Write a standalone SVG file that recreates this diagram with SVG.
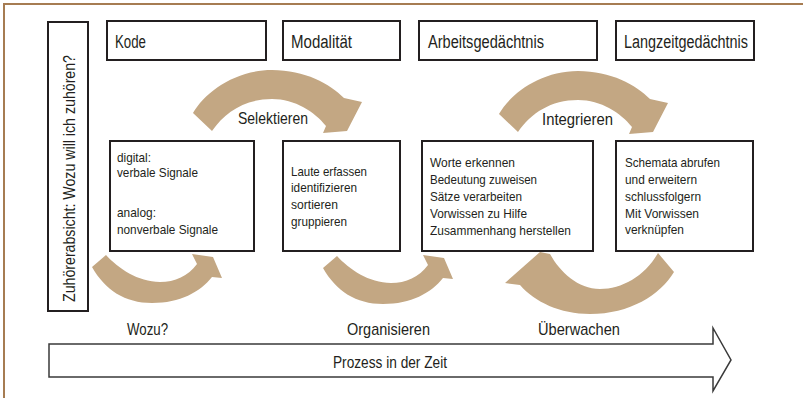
<svg xmlns="http://www.w3.org/2000/svg" width="803" height="398" viewBox="0 0 803 398">
<style>
text{font-family:"Liberation Sans",Arial,sans-serif;fill:#231f20}
.h{font-size:18px}
.v{font-size:17px}
.b{font-size:13px}
.l{font-size:17px}
.box{fill:#fff;stroke:#231f20;stroke-width:2}
.arc{fill:#c3a783}
</style>
<defs>
<path id="topArc" d="M193,113 C205,92 235,70 272,70 C305,70 330,84 344,98 L362,102 L347,131 L323,133 L326,126 C315,112 295,99 272,99 C245,99 225,112 212,131 Z"/>
<path id="botArc" d="M92,267 L106,255 C118,268 138,282 160,282 C175,282 188,276 197,264 L192,254 L213,257 L222,278 L212,277 C200,292 180,303 152,303 C125,303 105,290 92,267 Z"/>
</defs>
<rect width="803" height="398" fill="#fff"/>
<path d="M4,398 L4,4 L803,4" fill="none" stroke="#a67c52" stroke-width="2"/>

<g id="connectors">
<use href="#topArc" class="arc"/>
<use href="#topArc" class="arc" transform="translate(306,1)"/>
<use href="#botArc" class="arc"/>
<use href="#botArc" class="arc" transform="translate(231,1)"/>
<path class="arc" d="M658,253 L674,272 C660,295 630,314 590,314 C560,314 535,302 520,285 L505,283 L540,252 L550,254 C560,272 578,289 600,289 C622,289 645,276 658,253 Z"/>
</g>

<g id="intent">
<rect class="box" x="48" y="22" width="40" height="289"/>
<text class="v" transform="translate(75,302) rotate(-90)" textLength="247" lengthAdjust="spacingAndGlyphs">Zuhörerabsicht: Wozu will ich zuhören?</text>
</g>

<g id="kode"><rect class="box" x="107" y="21" width="159" height="39"/><text class="h" x="115" y="48" textLength="31" lengthAdjust="spacingAndGlyphs">Kode</text></g>
<g id="modalitaet"><rect class="box" x="283" y="21" width="117" height="39"/><text class="h" x="291" y="48" textLength="61" lengthAdjust="spacingAndGlyphs">Modalität</text></g>
<g id="arbeitsgedaechtnis"><rect class="box" x="419" y="21" width="178" height="39"/><text class="h" x="428" y="48" textLength="116" lengthAdjust="spacingAndGlyphs">Arbeitsgedächtnis</text></g>
<g id="langzeitgedaechtnis"><rect class="box" x="616" y="21" width="138" height="39"/><text class="h" x="624" y="48" textLength="124" lengthAdjust="spacingAndGlyphs">Langzeitgedächtnis</text></g>

<g id="signale"><rect class="box" x="110" y="141" width="144" height="110"/>
<text class="b" x="117" y="162" textLength="34" lengthAdjust="spacingAndGlyphs">digital:</text>
<text class="b" x="117" y="177" textLength="81" lengthAdjust="spacingAndGlyphs">verbale Signale</text>
<text class="b" x="117" y="217" textLength="39" lengthAdjust="spacingAndGlyphs">analog:</text>
<text class="b" x="117" y="234" textLength="101" lengthAdjust="spacingAndGlyphs">nonverbale Signale</text>
</g>
<g id="laute"><rect class="box" x="283" y="141" width="117" height="110"/>
<text class="b" x="291" y="176" textLength="76" lengthAdjust="spacingAndGlyphs">Laute erfassen</text>
<text class="b" x="291" y="192" textLength="66" lengthAdjust="spacingAndGlyphs">identifizieren</text>
<text class="b" x="291" y="209" textLength="47" lengthAdjust="spacingAndGlyphs">sortieren</text>
<text class="b" x="291" y="226" textLength="56" lengthAdjust="spacingAndGlyphs">gruppieren</text>
</g>
<g id="worte"><rect class="box" x="422" y="141" width="171" height="110"/>
<text class="b" x="430" y="167" textLength="85" lengthAdjust="spacingAndGlyphs">Worte erkennen</text>
<text class="b" x="430" y="184" textLength="107" lengthAdjust="spacingAndGlyphs">Bedeutung zuweisen</text>
<text class="b" x="430" y="201" textLength="92" lengthAdjust="spacingAndGlyphs">Sätze verarbeiten</text>
<text class="b" x="430" y="218" textLength="97" lengthAdjust="spacingAndGlyphs">Vorwissen zu Hilfe</text>
<text class="b" x="430" y="235" textLength="141" lengthAdjust="spacingAndGlyphs">Zusammenhang herstellen</text>
</g>
<g id="schemata"><rect class="box" x="616" y="141" width="137" height="110"/>
<text class="b" x="625" y="167" textLength="95" lengthAdjust="spacingAndGlyphs">Schemata abrufen</text>
<text class="b" x="625" y="184" textLength="72" lengthAdjust="spacingAndGlyphs">und erweitern</text>
<text class="b" x="625" y="201" textLength="76" lengthAdjust="spacingAndGlyphs">schlussfolgern</text>
<text class="b" x="625" y="218" textLength="74" lengthAdjust="spacingAndGlyphs">Mit Vorwissen</text>
<text class="b" x="625" y="234" textLength="59" lengthAdjust="spacingAndGlyphs">verknüpfen</text>
</g>

<g id="labels">
<text class="l" x="238" y="124" textLength="70" lengthAdjust="spacingAndGlyphs">Selektieren</text>
<text class="l" x="542" y="125" textLength="71" lengthAdjust="spacingAndGlyphs">Integrieren</text>
<text class="l" x="127" y="335" textLength="41" lengthAdjust="spacingAndGlyphs">Wozu?</text>
<text class="l" x="347" y="335" textLength="83" lengthAdjust="spacingAndGlyphs">Organisieren</text>
<text class="l" x="538" y="335" textLength="82" lengthAdjust="spacingAndGlyphs">Überwachen</text>
</g>

<g id="prozess">
<path d="M49,344 L713,344 L713,328 L731,360 L713,391 L713,377 L49,377 Z" fill="#fff" stroke="#3a3a3a" stroke-width="1.5"/>
<text class="l" x="333" y="368" textLength="114" lengthAdjust="spacingAndGlyphs">Prozess in der Zeit</text>
</g>
</svg>
